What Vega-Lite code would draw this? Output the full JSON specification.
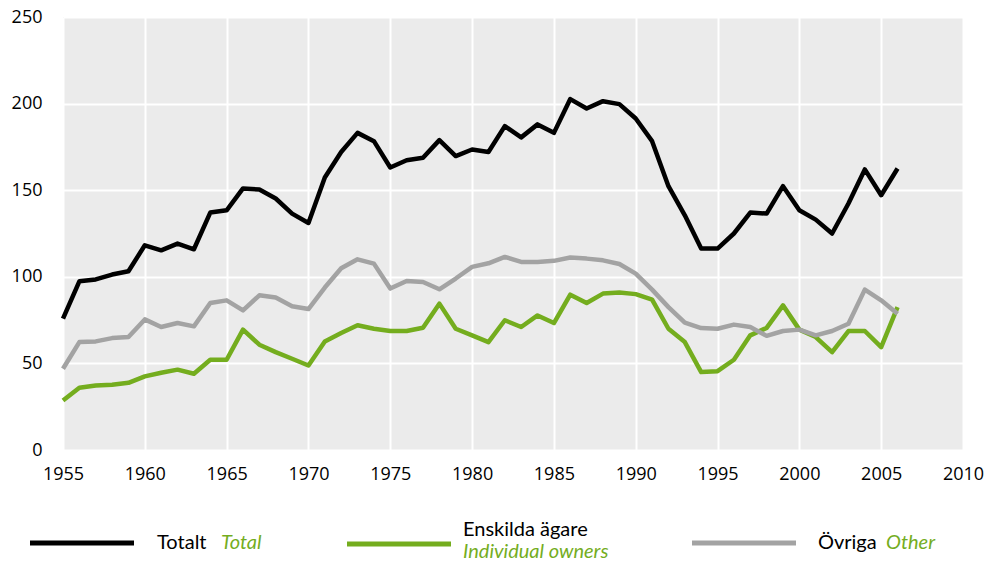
{
  "$schema": "https://vega.github.io/schema/vega-lite/v6.json",
  "width": 900,
  "height": 433,
  "autosize": {"type": "none"},
  "padding": {"left": 63, "top": 17, "right": 22, "bottom": 111},
  "background": "#ffffff",
  "config": {
    "view": {"fill": "#ebebeb", "stroke": null},
    "axis": {"labelFont": "Open Sans", "labelFontSize": 18, "labelColor": "#000000", "domain": false, "ticks": false, "gridColor": "#ffffff", "gridWidth": 2, "gridOpacity": 1, "title": null}
  },
  "datasets": {
    "main": [
      {"year": 1955, "Totalt": 75.8, "Enskilda ägare": 28.6, "Övriga": 46.9},
      {"year": 1956, "Totalt": 97.4, "Enskilda ägare": 36.0, "Övriga": 62.3},
      {"year": 1957, "Totalt": 98.5, "Enskilda ägare": 37.3, "Övriga": 62.7},
      {"year": 1958, "Totalt": 101.3, "Enskilda ägare": 37.7, "Övriga": 64.6},
      {"year": 1959, "Totalt": 103.2, "Enskilda ägare": 38.8, "Övriga": 65.2},
      {"year": 1960, "Totalt": 118.2, "Enskilda ägare": 42.5, "Övriga": 75.4},
      {"year": 1961, "Totalt": 115.3, "Enskilda ägare": 44.6, "Övriga": 71.0},
      {"year": 1962, "Totalt": 119.2, "Enskilda ägare": 46.4, "Övriga": 73.3},
      {"year": 1963, "Totalt": 115.9, "Enskilda ägare": 44.0, "Övriga": 71.4},
      {"year": 1964, "Totalt": 137.1, "Enskilda ägare": 52.1, "Övriga": 84.9},
      {"year": 1965, "Totalt": 138.4, "Enskilda ägare": 52.1, "Övriga": 86.4},
      {"year": 1966, "Totalt": 151.0, "Enskilda ägare": 69.5, "Övriga": 80.6},
      {"year": 1967, "Totalt": 150.4, "Enskilda ägare": 60.8, "Övriga": 89.3},
      {"year": 1968, "Totalt": 145.2, "Enskilda ägare": 56.5, "Övriga": 88.0},
      {"year": 1969, "Totalt": 136.5, "Enskilda ägare": 52.7, "Övriga": 83.0},
      {"year": 1970, "Totalt": 131.1, "Enskilda ägare": 48.8, "Övriga": 81.4},
      {"year": 1971, "Totalt": 157.3, "Enskilda ägare": 62.7, "Övriga": 93.8},
      {"year": 1972, "Totalt": 172.1, "Enskilda ägare": 67.5, "Övriga": 104.9},
      {"year": 1973, "Totalt": 183.1, "Enskilda ägare": 72.0, "Övriga": 110.1},
      {"year": 1974, "Totalt": 178.3, "Enskilda ägare": 70.0, "Övriga": 107.6},
      {"year": 1975, "Totalt": 163.1, "Enskilda ägare": 68.7, "Övriga": 93.2},
      {"year": 1976, "Totalt": 167.3, "Enskilda ägare": 68.7, "Övriga": 97.6},
      {"year": 1977, "Totalt": 168.7, "Enskilda ägare": 70.6, "Övriga": 97.0},
      {"year": 1978, "Totalt": 178.9, "Enskilda ägare": 84.5, "Övriga": 92.8},
      {"year": 1979, "Totalt": 169.7, "Enskilda ägare": 70.0, "Övriga": 99.0},
      {"year": 1980, "Totalt": 173.5, "Enskilda ägare": 66.2, "Övriga": 105.7},
      {"year": 1981, "Totalt": 172.1, "Enskilda ägare": 62.3, "Övriga": 107.8},
      {"year": 1982, "Totalt": 187.0, "Enskilda ägare": 74.9, "Övriga": 111.5},
      {"year": 1983, "Totalt": 180.5, "Enskilda ägare": 71.0, "Övriga": 108.6},
      {"year": 1984, "Totalt": 188.0, "Enskilda ägare": 77.7, "Övriga": 108.6},
      {"year": 1985, "Totalt": 183.1, "Enskilda ägare": 73.3, "Övriga": 109.2},
      {"year": 1986, "Totalt": 202.6, "Enskilda ägare": 89.7, "Övriga": 111.1},
      {"year": 1987, "Totalt": 197.2, "Enskilda ägare": 84.9, "Övriga": 110.5},
      {"year": 1988, "Totalt": 201.4, "Enskilda ägare": 90.3, "Övriga": 109.5},
      {"year": 1989, "Totalt": 199.7, "Enskilda ägare": 90.9, "Övriga": 107.4},
      {"year": 1990, "Totalt": 191.4, "Enskilda ägare": 90.0, "Övriga": 101.8},
      {"year": 1991, "Totalt": 178.3, "Enskilda ägare": 86.8, "Övriga": 92.6},
      {"year": 1992, "Totalt": 152.3, "Enskilda ägare": 70.0, "Övriga": 82.5},
      {"year": 1993, "Totalt": 135.5, "Enskilda ägare": 62.3, "Övriga": 73.5},
      {"year": 1994, "Totalt": 116.3, "Enskilda ägare": 45.0, "Övriga": 70.4},
      {"year": 1995, "Totalt": 116.3, "Enskilda ägare": 45.5, "Övriga": 70.0},
      {"year": 1996, "Totalt": 125.0, "Enskilda ägare": 52.1, "Övriga": 72.4},
      {"year": 1997, "Totalt": 137.1, "Enskilda ägare": 66.2, "Övriga": 71.0},
      {"year": 1998, "Totalt": 136.5, "Enskilda ägare": 70.5, "Övriga": 65.9},
      {"year": 1999, "Totalt": 152.3, "Enskilda ägare": 83.5, "Övriga": 68.7},
      {"year": 2000, "Totalt": 138.4, "Enskilda ägare": 69.5, "Övriga": 69.5},
      {"year": 2001, "Totalt": 133.0, "Enskilda ägare": 65.2, "Övriga": 66.2},
      {"year": 2002, "Totalt": 125.0, "Enskilda ägare": 56.5, "Övriga": 68.7},
      {"year": 2003, "Totalt": 142.3, "Enskilda ägare": 68.7, "Övriga": 72.9},
      {"year": 2004, "Totalt": 162.0, "Enskilda ägare": 68.7, "Övriga": 92.6},
      {"year": 2005, "Totalt": 147.1, "Enskilda ägare": 59.4, "Övriga": 86.4},
      {"year": 2006, "Totalt": 162.5, "Enskilda ägare": 82.5, "Övriga": 78.7}
    ],
    "legend": [
      {"i": 0, "series": "Totalt", "sv": "Totalt", "en": "Total"},
      {"i": 1, "series": "Enskilda ägare", "sv": "Enskilda ägare", "en": "Individual owners"},
      {"i": 2, "series": "Övriga", "sv": "Övriga", "en": "Other"}
    ]
  },
  "layer": [
    {
      "data": {"name": "main"},
      "transform": [{"fold": ["Totalt", "Enskilda ägare", "Övriga"], "as": ["series", "value"]}],
      "mark": {"type": "line", "strokeWidth": 4.5, "strokeJoin": "round"},
      "encoding": {
        "x": {"field": "year", "type": "quantitative", "scale": {"domain": [1955, 2010], "nice": false, "zero": false},
              "axis": {"values": [1955, 1960, 1965, 1970, 1975, 1980, 1985, 1990, 1995, 2000, 2005, 2010], "format": "d", "labelPadding": 15, "grid": true, "labelFlush": false}},
        "y": {"field": "value", "type": "quantitative", "scale": {"domain": [0, 250], "nice": false},
              "axis": {"values": [0, 50, 100, 150, 200, 250], "labelPadding": 21, "grid": true}},
        "color": {"field": "series", "type": "nominal", "scale": {"domain": ["Totalt", "Enskilda ägare", "Övriga"], "range": ["#000000", "#74ad1e", "#a3a3a3"]}, "legend": null},
        "order": {"field": "series"}
      }
    },
    {
      "data": {"name": "legend"},
      "mark": {"type": "rule", "strokeWidth": 5, "x2Offset": 104},
      "encoding": {
        "x": {"field": "i", "type": "quantitative", "scale": {"domain": [0, 1, 2], "range": [-33, 284, 629], "nice": false, "zero": false}, "axis": null},
        "x2": {"field": "i"},
        "y": {"field": "i", "type": "quantitative", "scale": {"domain": [0, 1, 2], "range": [526, 527, 526], "nice": false, "zero": false}, "axis": null},
        "color": {"field": "series", "type": "nominal", "scale": {"domain": ["Totalt", "Enskilda ägare", "Övriga"], "range": ["#000000", "#74ad1e", "#a3a3a3"]}, "legend": null}
      }
    },
    {
      "data": {"name": "legend"},
      "mark": {"type": "text", "align": "left", "baseline": "alphabetic", "font": "Lato", "fontSize": 20, "color": "#000000"},
      "encoding": {
        "x": {"field": "i", "type": "quantitative", "scale": {"domain": [0, 1, 2], "range": [94, 400, 755], "nice": false, "zero": false}, "axis": null},
        "y": {"field": "i", "type": "quantitative", "scale": {"domain": [0, 1, 2], "range": [532, 519, 532], "nice": false, "zero": false}, "axis": null},
        "text": {"field": "sv"}
      }
    },
    {
      "data": {"name": "legend"},
      "mark": {"type": "text", "align": "left", "baseline": "alphabetic", "font": "Lato", "fontSize": 20, "fontStyle": "italic", "color": "#74ad1e"},
      "encoding": {
        "x": {"field": "i", "type": "quantitative", "scale": {"domain": [0, 1, 2], "range": [158, 400, 823], "nice": false, "zero": false}, "axis": null},
        "y": {"field": "i", "type": "quantitative", "scale": {"domain": [0, 1, 2], "range": [532, 541, 532], "nice": false, "zero": false}, "axis": null},
        "text": {"field": "en"}
      }
    }
  ],
  "resolve": {"scale": {"x": "independent", "y": "independent", "color": "independent"}}
}
